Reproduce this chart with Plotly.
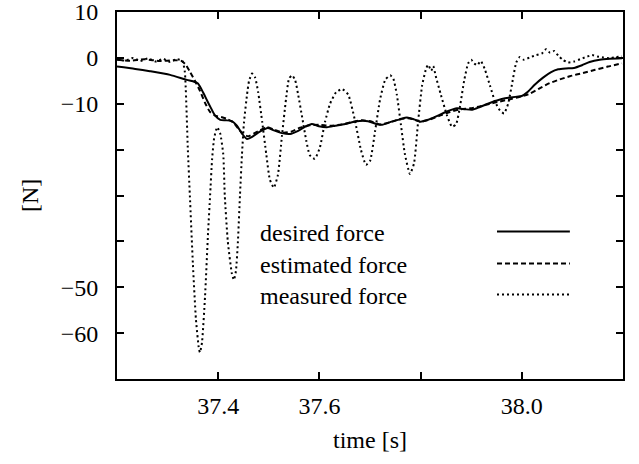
import plotly.graph_objects as go

# ---- data ----
desired_t = [37.200, 37.236, 37.265, 37.305, 37.338, 37.350, 37.360, 37.370, 37.378, 37.386,
             37.394, 37.404, 37.415, 37.427, 37.437, 37.447, 37.457, 37.467, 37.479, 37.491,
             37.498, 37.510, 37.526, 37.542, 37.558, 37.572, 37.585, 37.599, 37.615, 37.631,
             37.651, 37.674, 37.696, 37.712, 37.724, 37.743, 37.759, 37.773, 37.787, 37.799,
             37.815, 37.832, 37.852, 37.872, 37.888, 37.902, 37.917, 37.933, 37.951, 37.967,
             37.987, 38.000, 38.012, 38.026, 38.042, 38.058, 38.072, 38.087, 38.103, 38.119,
             38.134, 38.154, 38.174, 38.198]
desired_f = [-1.9, -2.4, -2.9, -3.7, -4.8, -5.1, -5.6, -7.5, -9.3, -11.0,
             -12.6, -13.5, -13.6, -13.8, -14.8, -16.5, -17.7, -17.2, -16.3, -15.6,
             -15.3, -15.8, -16.4, -16.6, -15.9, -15.0, -14.4, -14.9, -15.1, -14.8,
             -14.4, -13.8, -13.8, -14.4, -14.6, -13.9, -13.4, -13.0, -13.4, -13.9,
             -13.5, -12.7, -11.7, -11.0, -11.2, -11.3, -10.7, -10.0, -9.3, -8.8,
             -8.5, -8.3, -7.4, -5.8, -4.3, -3.1, -2.5, -2.3, -2.2, -1.6,
             -0.9, -0.4, -0.2, -0.1]

estimated_t = [37.200, 37.226, 37.255, 37.285, 37.314, 37.328, 37.336, 37.344, 37.354, 37.364,
               37.374, 37.384, 37.394, 37.406, 37.417, 37.429, 37.439, 37.449, 37.459, 37.470,
               37.483, 37.496, 37.510, 37.528, 37.544, 37.562, 37.581, 37.601, 37.621, 37.645,
               37.664, 37.684, 37.704, 37.720, 37.740, 37.759, 37.779, 37.799, 37.819, 37.838,
               37.858, 37.878, 37.898, 37.917, 37.937, 37.957, 37.977, 37.996, 38.016, 38.036,
               38.055, 38.075, 38.095, 38.121, 38.145, 38.170, 38.198]
estimated_f = [-0.4, -0.6, -0.3, -0.7, -0.5, -0.7, -1.5, -3.0, -5.0, -7.2,
               -9.8, -11.8, -12.6, -12.9, -13.3, -14.0, -15.3, -16.6, -17.1, -16.5,
               -15.8, -15.1, -15.6, -16.3, -16.1, -15.2, -14.7, -14.6, -14.8, -14.5,
               -14.0, -13.6, -13.9, -14.5, -14.0, -13.3, -13.2, -13.9, -13.4, -12.6,
               -11.8, -11.2, -11.0, -10.6, -10.0, -9.5, -9.0, -8.5, -7.8, -6.6,
               -5.5, -4.7, -4.0, -3.3, -2.6, -1.9, -1.2]

measured_t = [37.200, 37.216, 37.232, 37.246, 37.261, 37.277, 37.291, 37.305, 37.317, 37.329,
              37.334, 37.340, 37.344, 37.350, 37.356, 37.362, 37.364, 37.368, 37.374, 37.380,
              37.384, 37.388, 37.392, 37.398, 37.404, 37.410, 37.413, 37.419, 37.427, 37.431,
              37.435, 37.439, 37.443, 37.447, 37.451, 37.457, 37.461, 37.467, 37.473, 37.479,
              37.487, 37.495, 37.502, 37.510, 37.518, 37.526, 37.534, 37.540, 37.546, 37.552,
              37.558, 37.566, 37.574, 37.581, 37.591, 37.601, 37.611, 37.621, 37.633, 37.645,
              37.657, 37.670, 37.682, 37.692, 37.700, 37.710, 37.720, 37.730, 37.740, 37.746,
              37.753, 37.761, 37.769, 37.779, 37.787, 37.795, 37.803, 37.811, 37.815, 37.821,
              37.825, 37.830, 37.840, 37.852, 37.862, 37.870, 37.878, 37.886, 37.894, 37.900,
              37.906, 37.912, 37.919, 37.927, 37.937, 37.947, 37.957, 37.965, 37.973, 37.981,
              37.989, 37.996, 38.004, 38.016, 38.028, 38.040, 38.048, 38.056, 38.064, 38.072,
              38.081, 38.091, 38.103, 38.115, 38.127, 38.139, 38.149, 38.161, 38.174, 38.186,
              38.198]
measured_f = [-0.3, -0.6, 0.0, -0.7, -0.1, -0.8, -0.2, -0.9, -0.3, -0.6,
              -3.0, -20.0, -30.0, -45.0, -57.0, -63.5, -64.2, -62.0, -52.0, -38.0,
              -30.0, -22.0, -17.5, -15.1, -16.5, -21.0, -30.0, -40.0, -47.0, -48.4,
              -46.5, -40.0, -30.0, -21.0, -14.0, -8.0, -5.0, -3.4, -4.3, -7.5,
              -14.0, -21.0, -26.5, -28.3, -25.5, -17.0, -9.0, -4.5, -3.8, -4.8,
              -8.0, -13.0, -18.0, -21.2, -22.0, -19.5, -14.0, -10.0, -7.5, -6.8,
              -8.0, -13.5, -20.0, -23.3, -22.5, -16.0, -9.0, -4.8, -3.8, -4.5,
              -8.0, -14.5, -21.0, -25.3, -23.0, -14.0, -6.0, -2.3, -1.5, -2.8,
              -1.8, -4.0, -8.0, -12.5, -15.0, -14.5, -10.5, -5.0, -1.2, -0.4,
              -1.2, -1.6, -0.7, -2.5, -6.0, -9.5, -11.5, -12.1, -10.0, -5.5,
              -1.0, 0.2, -0.4, 0.1, 0.6, 1.0, 1.9, 1.1, 1.5, 0.5,
              -0.4, -1.0, -0.8, -0.3, 0.2, 0.6, 0.3, 0.1, -0.1, 0.2,
              0.3]

x_tickvals = [37.4, 37.6, 37.8, 38.0]
x_ticktext = ["37.4", "37.6", "", "38.0"]
y_tickvals = [10, 0, -10, -20, -30, -40, -50, -60]
y_ticktext = ["10", "0", "\u221210", "", "", "", "\u221250", "\u221260"]

legend_names = ["desired force", "estimated force", "measured force"]
legend_dashes = ["solid", "5px,3px", "2px,3px"]

FONT = "Liberation Serif"
FS = 24

fig = go.Figure()
fig.add_trace(go.Scatter(x=desired_t, y=desired_f, mode="lines", name=legend_names[0],
                         line=dict(color="black", width=2, dash=legend_dashes[0], shape="spline", smoothing=0.6)))
fig.add_trace(go.Scatter(x=estimated_t, y=estimated_f, mode="lines", name=legend_names[1],
                         line=dict(color="black", width=2, dash=legend_dashes[1], shape="spline", smoothing=0.6)))
fig.add_trace(go.Scatter(x=measured_t, y=measured_f, mode="lines", name=legend_names[2],
                         line=dict(color="black", width=2, dash=legend_dashes[2], shape="spline", smoothing=0.5)))

# legend drawn manually: text on the left, line sample on the right
row_y = [0.398, 0.311, 0.226]
for name, dash, ry in zip(legend_names, legend_dashes, row_y):
    fig.add_annotation(x=0.279, y=ry, xref="paper", yref="paper", text=name, showarrow=False,
                       xanchor="left", yanchor="middle", font=dict(family=FONT, size=FS, color="black"))
    fig.add_shape(type="line", xref="paper", yref="paper", x0=0.751, x1=0.895, y0=ry + 0.004, y1=ry + 0.004,
                  line=dict(color="black", width=2, dash=dash))

# axis titles
fig.add_annotation(x=0.5, y=-0.166, xref="paper", yref="paper", text="time [s]", showarrow=False,
                   xanchor="center", yanchor="middle", font=dict(family=FONT, size=FS, color="black"))
fig.add_annotation(x=-0.172, y=0.501, xref="paper", yref="paper", text="[N]", showarrow=False, textangle=-90,
                   xanchor="center", yanchor="middle", font=dict(family=FONT, size=FS, color="black"))

axis_common = dict(showline=True, linecolor="black", linewidth=2, mirror="ticks", ticks="inside",
                   ticklen=7, tickwidth=1.5, tickcolor="black", showgrid=False, zeroline=False,
                   automargin=False, ticklabeloverflow="allow",
                   tickfont=dict(family=FONT, size=FS, color="black"))

fig.update_xaxes(range=[37.2, 38.2], tickvals=x_tickvals, ticktext=x_ticktext,
                 ticklabelstandoff=4, **axis_common)
fig.update_yaxes(range=[-70, 10], tickvals=y_tickvals, ticktext=y_ticktext,
                 ticklabelstandoff=12, **axis_common)

fig.update_layout(width=639, height=464, margin=dict(l=117, r=16, t=12, b=85),
                  paper_bgcolor="white", plot_bgcolor="white", showlegend=False)

fig.write_html("out.html", config={"displayModeBar": False},
               post_script="document.body.style.margin='0';document.body.style.overflow='hidden';")
